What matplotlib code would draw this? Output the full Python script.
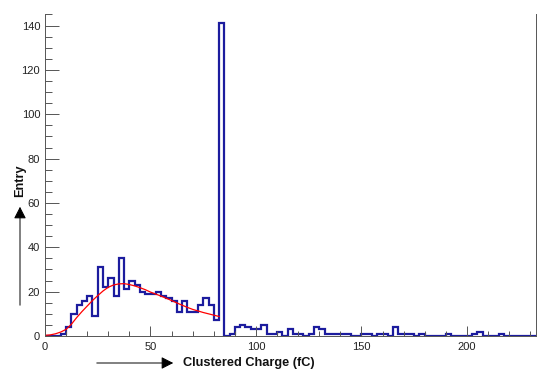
import matplotlib
matplotlib.use("Agg")
import matplotlib.pyplot as plt
import numpy as np
from matplotlib.ticker import MultipleLocator

# ---- data ----
x_min = 0.0
bin_width = 2.5
counts = [
    0, 0, 0, 1, 4, 10, 14, 16, 18, 9,
    31, 22, 26, 18, 35, 21, 25, 23, 20, 19,
    19, 20, 18, 17, 16, 11, 16, 11, 11, 14,
    17, 14, 7, 141,
    0, 1, 4, 5, 4, 3, 3, 5, 1, 1,
    2, 0, 3, 1, 1, 0, 1, 4, 3, 1,
    1, 1, 1, 1, 0, 0, 1, 1, 0, 1,
    1, 0, 4, 1, 1, 1, 0, 1, 0, 0,
    0, 0, 1, 0, 0, 0, 0, 1, 2, 0,
    0, 0, 1, 0, 0, 0, 0, 0, 0,
]
fit_x = [0, 2.5, 5, 7.5, 10, 12.5, 15, 17.5, 20, 22.5, 25, 27.5, 30, 32.5, 35,
         37.5, 40, 42.5, 45, 47.5, 50, 52.5, 55, 57.5, 60, 62.5, 65, 67.5, 70,
         72.5, 75, 77.5, 80, 82.5]
fit_y = [0.3, 0.5, 1.0, 1.8, 3.0, 5.3, 8.3, 11.0, 13.5, 16.0, 18.2, 20.3, 22.0,
         23.0, 23.5, 23.6, 23.2, 22.6, 21.8, 20.9, 19.8, 18.9, 18.0, 17.0, 16.0,
         14.9, 13.9, 12.9, 12.0, 11.3, 10.6, 10.0, 9.4, 8.8]
x_label = "Clustered Charge (fC)"
y_label = "Entry"

edges = x_min + bin_width * np.arange(len(counts) + 1)

W, H = 537, 372
fig = plt.figure(figsize=(W / 100, H / 100), dpi=100)
ax = fig.add_axes([45 / W, 1 - 336 / H, (535.5 - 45) / W, (336 - 14) / H])

ax.stairs(counts, edges, baseline=0, color="#1c1c9e", lw=1.6)
ax.plot(fit_x, fit_y, color="#ff0000", lw=0.9)

ax.set_xlim(edges[0], edges[-1])
ax.set_ylim(0, 145.2)

ax.xaxis.set_major_locator(MultipleLocator(50))
ax.xaxis.set_minor_locator(MultipleLocator(10))
ax.yaxis.set_major_locator(MultipleLocator(20))
ax.yaxis.set_minor_locator(MultipleLocator(5))

tick_font = ["Liberation Sans", "DejaVu Sans"]
axis_col = "#555555"
ax.tick_params(axis="x", which="major", direction="in", length=7.2, width=0.7,
               color=axis_col, pad=4.5, labelsize=8)
ax.tick_params(axis="x", which="minor", direction="in", length=3.6, width=0.7,
               color=axis_col)
ax.tick_params(axis="y", which="major", direction="in", length=10, width=0.7,
               color=axis_col, pad=3.5, labelsize=8)
ax.tick_params(axis="y", which="minor", direction="in", length=5, width=0.7,
               color=axis_col)
for lab in ax.get_xticklabels() + ax.get_yticklabels():
    lab.set_family(tick_font)
    lab.set_color("#222222")

for s in ["left", "bottom", "right"]:
    ax.spines[s].set_color(axis_col)
    ax.spines[s].set_linewidth(0.7)
ax.spines["top"].set_visible(False)

label_font = ["Liberation Sans", "DejaVu Sans"]
fig.text(183 / W, 1 - 363 / H, x_label, ha="left", va="center",
         fontsize=9.2, fontweight="bold", family=label_font, color="#111111")
fig.text(20 / W, 1 - 181 / H, y_label, ha="center", va="center", rotation=90,
         fontsize=9.2, fontweight="bold", family=label_font, color="#111111")

# arrows
fig.add_artist(matplotlib.patches.FancyArrowPatch(
    (94 / W, 1 - 363 / H), (176 / W, 1 - 363 / H), transform=fig.transFigure,
    arrowstyle="-|>,head_length=4.5,head_width=2.3", color="black", lw=0.7,
    mutation_scale=1.6))
fig.add_artist(matplotlib.patches.FancyArrowPatch(
    (20 / W, 1 - 308 / H), (20 / W, 1 - 204 / H), transform=fig.transFigure,
    arrowstyle="-|>,head_length=4.5,head_width=2.3", color="black", lw=0.7,
    mutation_scale=1.6))

fig.savefig("out.png", dpi=100)
